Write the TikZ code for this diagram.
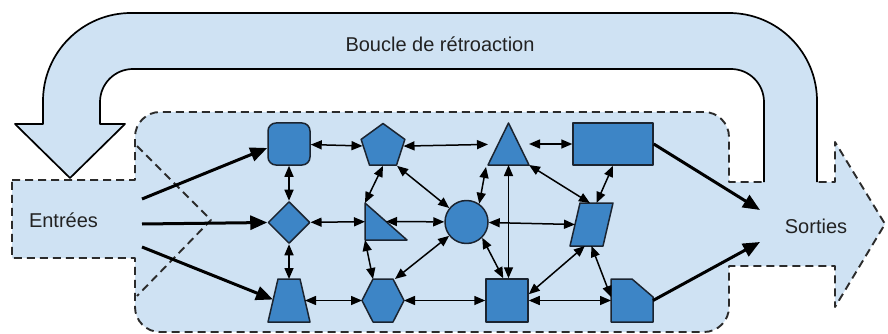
\documentclass[tikz,border=0pt]{standalone}
\usepackage{fontspec}
\setmainfont{Liberation Sans}
\usetikzlibrary{shapes.geometric,arrows.meta,calc}
\definecolor{pale}{HTML}{CFE2F3}
\definecolor{nodeblue}{HTML}{3D85C6}
\definecolor{edgecol}{HTML}{1B2430}
\definecolor{txt}{HTML}{222222}
\definecolor{dashcol}{HTML}{2B2B2B}
\tikzset{
  shp/.style={fill=nodeblue, draw=edgecol, line width=1.5pt, line join=round},
  ph/.style={rectangle, inner sep=0pt, outer sep=0pt},
  dbl/.style={line width=1.5pt, {Triangle[length=11pt,width=9pt]}-{Triangle[length=11pt,width=9pt]}},
  bigarr/.style={line width=3pt, -{Triangle[length=17pt,width=14pt]}},
  lbl/.style={font=\fontsize{20pt}{24pt}\selectfont, text=txt, inner sep=0pt},
  outl/.style={draw=dashcol, line width=1.9pt, dash pattern=on 8pt off 5pt, line join=round},
}
\begin{document}
\begin{tikzpicture}[x=1pt,y=-1pt]
\useasboundingbox (0,0) rectangle (888,334);
% main region with inputs and outputs
\path[fill=pale, outl] (12,180) -- (135,180) -- (135,137) .. controls (135,123.2) and (146.2,112) .. (160,112) -- (704,112) .. controls (717.8,112) and (729,123.2) .. (729,137) -- (729,182) -- (835,182) -- (835,142) -- (885,224) -- (835,307) -- (835,266) -- (729,266) -- (729,307) .. controls (729,320.8) and (717.8,332) .. (704,332) -- (160,332) .. controls (146.2,332) and (135,320.8) .. (135,307) -- (135,258) -- (12,258) -- cycle;
\draw[outl] (137,146) -- (211,220) -- (137,296);
\fill[pale] (765,178) rectangle (816,186);
% feedback loop
\path[fill=pale, draw=black, line width=1.7pt, line join=round] (817,182) -- (817,101) .. controls (817,52.4) and (777.6,13) .. (729,13) -- (131,13) .. controls (82.4,13) and (43,52.4) .. (43,101) -- (43,124) -- (15,124) -- (70,178) -- (125,124) -- (100,124) -- (100,102) .. controls (100,83.8) and (114.8,69) .. (133,69) -- (731,69) .. controls (749.2,69) and (764,83.8) .. (764,102) -- (764,182);
% labels
\node[lbl] (Bo) at (440,44) {Boucle de rétroaction};
\node[lbl] (Ent) at (63.5,220) {Entrées};
\node[lbl] (So) at (816,226) {Sorties};
% shapes
\node[shp, rectangle, rounded corners=8pt, minimum width=42pt, minimum height=42pt, inner sep=0pt] (RS) at (289,144) {};
\node[shp, regular polygon, regular polygon sides=5, minimum size=46pt, inner sep=0pt] (PE) at (383,146.5) {};
\node[shp, diamond, minimum width=42pt, minimum height=42pt, inner sep=0pt] (DI) at (289,222.5) {};
\node[ph, minimum width=42pt, minimum height=37pt] (RT) at (386,221.5) {};
\draw[shp] (RT.north west) -- (RT.south west) -- (RT.south east) -- cycle;
\coordinate (RThyp) at ($(RT.north west)!0.5!(RT.south east)$);
\node[shp, circle, minimum size=43pt, inner sep=0pt] (CI) at (466.5,222) {};
\node[ph, minimum width=42pt, minimum height=43pt] (TZ) at (289,300.5) {};
\draw[shp] (TZ.south west) -- ($(TZ.north west)+(10,0)$) -- ($(TZ.north east)+(-10,0)$) -- (TZ.south east) -- cycle;
\coordinate (TZl) at ($(TZ.west)+(5,0)$);
\coordinate (TZr) at ($(TZ.east)+(-5,0)$);
\node[ph, minimum width=42pt, minimum height=43pt] (HX) at (383,300.5) {};
\draw[shp] (HX.west) -- ($(HX.north west)+(11,0)$) -- ($(HX.north east)+(-11,0)$) -- (HX.east) -- ($(HX.south east)+(-11,0)$) -- ($(HX.south west)+(11,0)$) -- cycle;
\node[ph, minimum width=41pt, minimum height=42pt] (TR) at (508.5,144) {};
\draw[shp] (TR.south west) -- (TR.north) -- (TR.south east) -- cycle;
\node[shp, rectangle, minimum width=80pt, minimum height=42pt, inner sep=0pt] (RE) at (613,144) {};
\node[ph, minimum width=43pt, minimum height=43pt] (PA) at (591.5,224.5) {};
\draw[shp] (PA.south west) -- ($(PA.north west)+(10,0)$) -- (PA.north east) -- ($(PA.south east)+(-10,0)$) -- cycle;
\coordinate (PAl) at ($(PA.west)+(5,0)$);
\coordinate (PAtl) at ($(PA.north west)+(10,0)$);
\coordinate (PAbr) at ($(PA.south east)+(-10,0)$);
\node[shp, rectangle, minimum width=42pt, minimum height=43pt, inner sep=0pt] (SQ) at (507,300.5) {};
\node[ph, minimum width=42pt, minimum height=43pt] (CC) at (632,300.5) {};
\draw[shp] (CC.south west) -- (CC.north west) -- ($(CC.north west)+(21,0)$) -- ($(CC.north east)+(0,18)$) -- (CC.south east) -- cycle;
% free ends
\coordinate (InA) at (142,199);
\coordinate (InB) at (142,224);
\coordinate (InC) at (142,247);
\coordinate (SoA) at (760,210);
\coordinate (SoB) at (760,242);
% thick arrows
\draw[bigarr] (InA) -- ([yshift=-4pt]RS.west);
\draw[bigarr] (InB) -- (DI.west);
\draw[bigarr] (InC) -- ($(TZl)+(0,-1)$);
\draw[bigarr] (RE.east) -- (SoA);
\draw[bigarr] (CC.east) -- (SoB);
% double arrows
\draw[dbl] (RS) -- (PE);
\draw[dbl] (PE) -- (TR);
\draw[dbl] (TR) -- (RE);
\draw[dbl] (RS) -- (DI);
\draw[dbl] (DI) -- (TZ.north);
\draw[dbl] (DI) -- (RT);
\draw[dbl] (PE.south) -- (RT.north west);
\draw[dbl] (PE.corner 4) -- (CI);
\draw[dbl] (RThyp) -- (CI);
\draw[dbl] (RT.south west) -- ($(HX.north)+(-10,0)$);
\draw[dbl] (CI) -- ($(HX.north east)+(-9,0)$);
\draw[dbl] (TZr) -- (HX);
\draw[dbl] (HX) -- (SQ);
\draw[dbl] (CI.55) -- ($(TR.south west)+(-2,2)$);
\draw[dbl] (TR.south) -- (TR.south |- SQ.north);
\draw[dbl] (CI) -- (PAl);
\draw[dbl] (CI.-45) -- ($(SQ.north west)+(18,0)$);
\draw[dbl] (TR.south east) -- ($(PAtl)!0.3!(PA.north east)$);
\draw[dbl] (RE.south) -- ($(PAtl)!0.5!(PA.north east)$);
\draw[dbl] ($(PA.south west)!0.45!(PAbr)$) -- ($(SQ.north east)+(0,16)$);
\draw[dbl] ($(PA.south west)!0.65!(PAbr)$) -- ($(CC.north west)+(0,18)$);
\draw[dbl] (SQ) -- (CC);
\end{tikzpicture}
\end{document}
